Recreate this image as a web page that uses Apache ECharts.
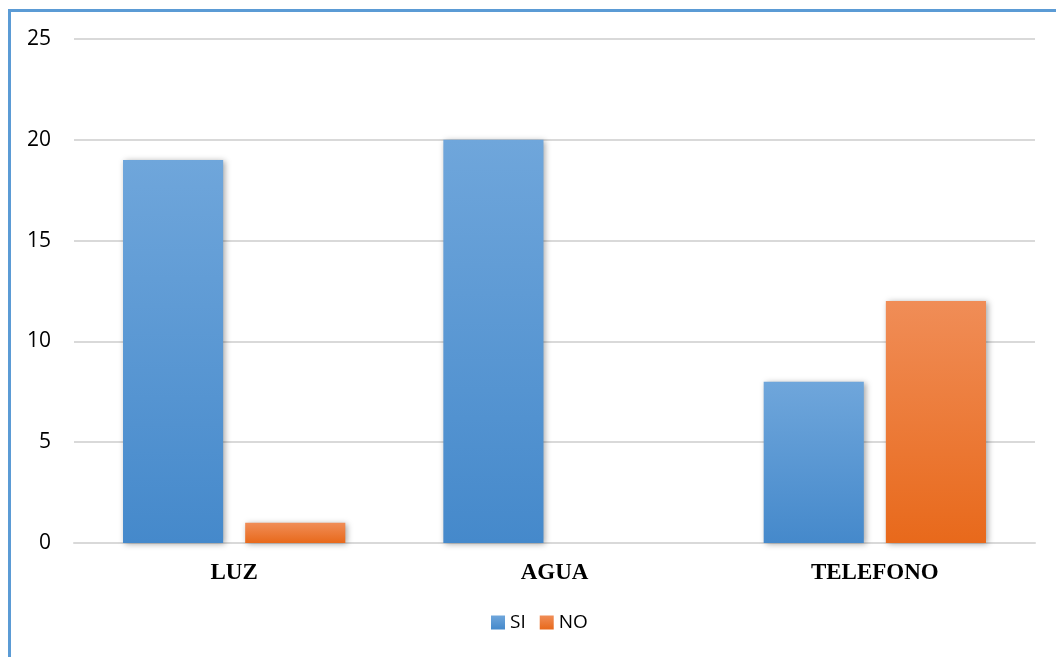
<!DOCTYPE html>
<html><head><meta charset="utf-8">
<script src="https://cdn.jsdelivr.net/npm/echarts@6/dist/echarts.min.js"></script>
<style>html,body{margin:0;padding:0;background:#fff}#c{width:1056px;height:657px}</style>
</head><body><div id="c"></div>
<script>
const categories = ['LUZ', 'AGUA', 'TELEFONO'];
const siValues = [19, 20, 8];
const noValues = [1, 0, 12];
const yTicks = { min: 0, max: 25, interval: 5 };

const chart = echarts.init(document.getElementById('c'));
const grad = (a, b) => new echarts.graphic.LinearGradient(0, 0, 0, 1, [{offset: 0, color: a}, {offset: 1, color: b}]);
const shadow = {shadowBlur: 6, shadowColor: 'rgba(0,0,0,0.35)', shadowOffsetX: 2, shadowOffsetY: 1};
chart.setOption({
  animation: false,
  graphic: [
    {type: 'line', shape: {x1: 9.5, y1: 9, x2: 9.5, y2: 657}, style: {stroke: '#5B9BD5', lineWidth: 3}},
    {type: 'line', shape: {x1: 8, y1: 10.5, x2: 1056, y2: 10.5}, style: {stroke: '#5B9BD5', lineWidth: 3}}
  ],
  grid: {left: 74, right: 21, top: 39, bottom: 114},
  legend: {
    data: ['SI', 'NO'], bottom: 20, left: 486, itemWidth: 14, itemHeight: 14, itemGap: 14,
    icon: 'rect',
    textStyle: {fontFamily: 'Open Sans', fontSize: 19, color: '#000'}
  },
  xAxis: {
    type: 'category', data: categories,
    axisLine: {lineStyle: {color: '#D9D9D9', width: 2}},
    axisTick: {show: false},
    axisLabel: {margin: 19, fontFamily: 'Liberation Serif', fontWeight: 'bold', fontSize: 23, color: '#000'}
  },
  yAxis: {
    type: 'value', min: yTicks.min, max: yTicks.max, interval: yTicks.interval,
    axisLine: {show: false}, axisTick: {show: false},
    splitLine: {lineStyle: {color: '#D9D9D9', width: 2}},
    axisLabel: {margin: 23, fontFamily: 'Open Sans', fontSize: 21, color: '#000'}
  },
  series: [
    {name: 'SI', type: 'bar', data: siValues, barGap: '22%', barCategoryGap: '30.6%',
     itemStyle: Object.assign({color: grad('#6FA6DB', '#4589CB')}, shadow)},
    {name: 'NO', type: 'bar', data: noValues,
     itemStyle: Object.assign({color: grad('#F08D57', '#E8691B')}, shadow)}
  ]
});
</script></body></html>
